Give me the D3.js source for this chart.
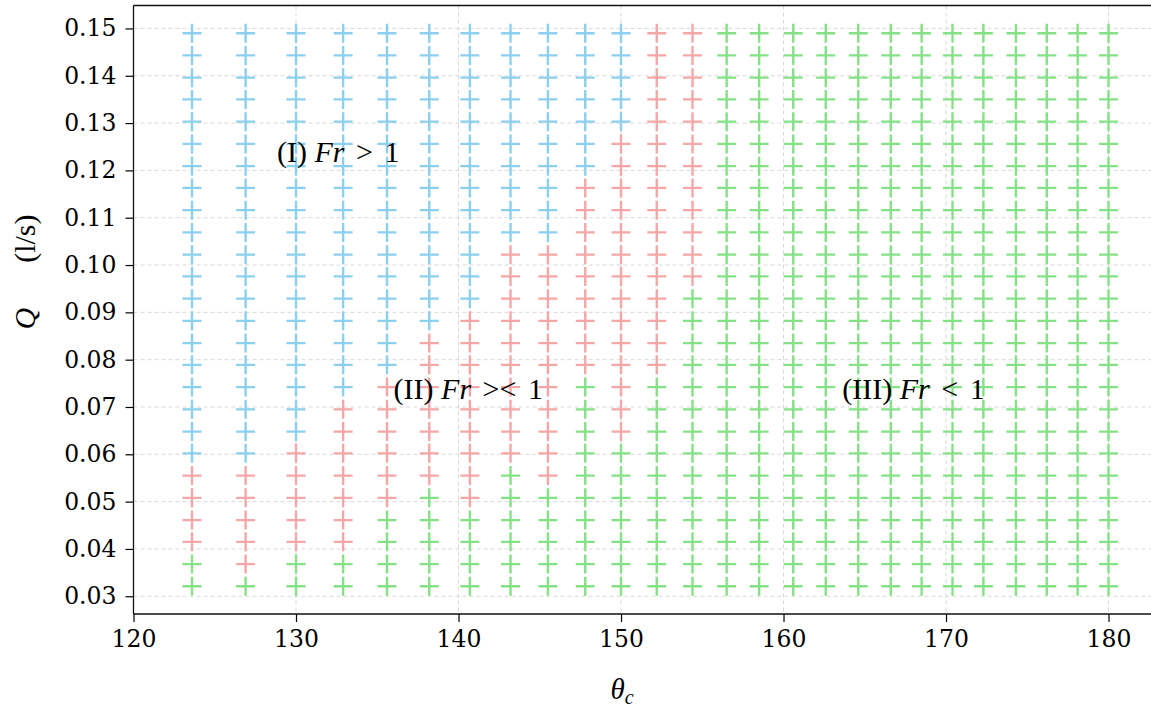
<!DOCTYPE html>
<html>
<head>
<meta charset="utf-8">
<script src="https://cdn.jsdelivr.net/npm/d3@7/dist/d3.min.js"></script>
<style>
    body { margin: 0; background: #fff; }
    #plot { display: block; background: #fff; }
    .tick text { font-family: 'DejaVu Serif', serif; font-size: 23.5px; fill: #000; }
    .tick line { stroke: #000; stroke-width: 1.2; }
    .domain { display: none; }
    .grid line { stroke: #d9d9d9; stroke-width: 1; stroke-dasharray: 4,3; }
    .spine { stroke: #111; stroke-width: 1.3; }
    .note { font-family: 'Liberation Serif', 'DejaVu Serif', serif; font-size: 30px; fill: #000; }
</style>
</head>
<body>
<svg id="plot" width="1151" height="710"></svg>
<script>
'use strict';

// contact angle theta_c of each measured column
const thetaC = [123.6, 126.9, 130.0, 132.9, 135.6, 138.2, 140.7, 143.2, 145.5, 147.8,
    150.0, 152.2, 154.4, 156.5, 158.5, 160.6, 162.6, 164.6, 166.6, 168.5,
    170.4, 172.3, 174.3, 176.2, 178.1, 180.0];

// flow rate Q (l/s) of each row, top to bottom
const flowQ = [0.1490, 0.1443, 0.1396, 0.1350, 0.1303, 0.1256, 0.1209, 0.1163, 0.1116,
    0.1069, 0.1022, 0.0976, 0.0929, 0.0882, 0.0835, 0.0789, 0.0742, 0.0695,
    0.0648, 0.0602, 0.0555, 0.0508, 0.0461, 0.0415, 0.0368, 0.0321];

// per column: how many rows (from the top) are regime I, then regime II; the rest is regime III
const regimeOneRows = [20, 20, 19, 17, 16, 14, 13, 10, 10, 7, 5, 0, 0,
    0, 0, 0, 0, 0, 0, 0, 0, 0, 0, 0, 0, 0];
const regimeTwoRows = [4, 5, 5, 7, 6, 7, 9, 10, 11, 9, 14, 16, 12,
    0, 0, 0, 0, 0, 0, 0, 0, 0, 0, 0, 0, 0];

const xTicks = [120, 130, 140, 150, 160, 170, 180];
const yTicks = [0.03, 0.04, 0.05, 0.06, 0.07, 0.08, 0.09, 0.10, 0.11, 0.12, 0.13, 0.14, 0.15];

const regimeColors = ['#8ccfee', '#f5a7a7', '#85e185'];

const noteNames = ['(I)', '(II)', '(III)'];
const noteRelations = ['>', '><', '<'];
const noteTheta = [132.6, 140.6, 168.0];
const noteQ = [0.1240, 0.0740, 0.0740];

const margin = { left: 133.5, right: 1155, top: 5.5, bottom: 614 };
const markerArm = 9.5;

const svg = d3.select('#plot');

const x = d3.scaleLinear()
    .domain([120, 182.86])
    .range([margin.left, margin.right]);

const y = d3.scaleLinear()
    .domain([0.02625, 0.15485])
    .range([margin.bottom, margin.top]);

function regimeOf(col, row) {
    if (row < regimeOneRows[col]) return 0;
    if (row < regimeOneRows[col] + regimeTwoRows[col]) return 1;
    return 2;
}

function buildPoints() {
    const points = [];
    thetaC.forEach((theta, col) => {
        flowQ.forEach((q, row) => {
            points.push({ theta, q, regime: regimeOf(col, row) });
        });
    });
    return points;
}

function renderGrid() {
    const grid = svg.append('g').attr('class', 'grid');

    grid.selectAll('.vline')
        .data(xTicks)
        .enter()
        .append('line')
        .attr('x1', d => x(d))
        .attr('x2', d => x(d))
        .attr('y1', margin.top)
        .attr('y2', margin.bottom);

    grid.selectAll('.hline')
        .data(yTicks)
        .enter()
        .append('line')
        .attr('x1', margin.left)
        .attr('x2', margin.right)
        .attr('y1', d => y(d))
        .attr('y2', d => y(d));
}

function renderAxes() {
    svg.append('g')
        .attr('transform', `translate(0, ${margin.bottom})`)
        .call(d3.axisBottom(x).tickValues(xTicks).tickFormat(d3.format('d')).tickSize(8).tickPadding(8));

    svg.append('g')
        .attr('transform', `translate(${margin.left}, 0)`)
        .call(d3.axisLeft(y).tickValues(yTicks).tickFormat(d3.format('.2f')).tickSize(8).tickPadding(9));

    // spines: left, bottom, top (right one falls outside the picture)
    svg.append('line').attr('class', 'spine')
        .attr('x1', margin.left).attr('x2', margin.left)
        .attr('y1', margin.top).attr('y2', margin.bottom);
    svg.append('line').attr('class', 'spine')
        .attr('x1', margin.left).attr('x2', margin.right)
        .attr('y1', margin.bottom).attr('y2', margin.bottom);
    svg.append('line').attr('class', 'spine')
        .attr('x1', margin.left).attr('x2', margin.right)
        .attr('y1', margin.top).attr('y2', margin.top);
}

function renderMarkers() {
    const plus = `M${-markerArm},0H${markerArm}M0,${-markerArm}V${markerArm}`;

    svg.append('g')
        .selectAll('path')
        .data(buildPoints())
        .enter()
        .append('path')
        .attr('d', plus)
        .attr('transform', d => `translate(${x(d.theta)}, ${y(d.q)})`)
        .attr('fill', 'none')
        .attr('stroke', d => regimeColors[d.regime])
        .attr('stroke-width', 2.4);
}

function renderNotes() {
    noteNames.forEach((name, i) => {
        const t = svg.append('text')
            .attr('class', 'note')
            .attr('x', x(noteTheta[i]))
            .attr('y', y(noteQ[i]))
            .attr('text-anchor', 'middle')
            .attr('dominant-baseline', 'central');
        t.append('tspan').text(name + ' ');
        t.append('tspan').attr('font-style', 'italic').text('Fr');
        t.append('tspan').attr('dx', 4).text(` ${noteRelations[i]}`);
        t.append('tspan').attr('dx', 4).text(' 1');
    });
}

function renderLabels() {
    const xl = svg.append('text')
        .attr('x', 622)
        .attr('y', 699)
        .attr('text-anchor', 'middle')
        .style('font-family', "'Liberation Serif', serif")
        .style('font-size', '29px');
    xl.append('tspan').attr('font-style', 'italic').text('θ');
    xl.append('tspan').attr('font-style', 'italic').attr('font-size', '20px').attr('dy', 5).text('c');

    const yl = svg.append('text')
        .attr('transform', 'translate(35, 272) rotate(-90)')
        .attr('text-anchor', 'middle')
        .style('font-family', "'Liberation Serif', serif")
        .style('font-size', '30px')
        .attr('xml:space', 'preserve');
    yl.append('tspan').attr('font-style', 'italic').text('Q');
    yl.append('tspan').text('\u2003\u2002(l/s)');
}

renderGrid();
renderMarkers();
renderAxes();
renderNotes();
renderLabels();
</script>
</body>
</html>
